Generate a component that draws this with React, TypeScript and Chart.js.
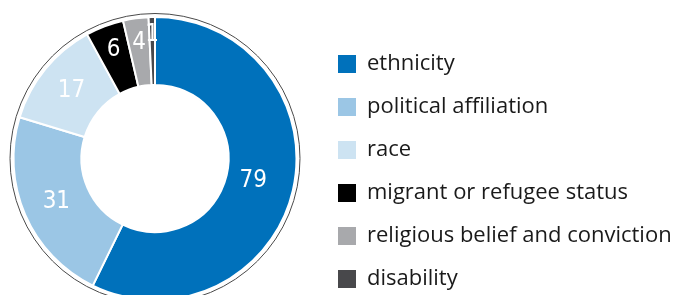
import React, { useEffect, useRef } from 'react';
import { Chart, registerables } from 'chart.js';

Chart.register(...registerables);

const categories = [
  'ethnicity',
  'political affiliation',
  'race',
  'migrant or refugee status',
  'religious belief and conviction',
  'disability',
];
const values = [79, 31, 17, 6, 4, 1];
const colors = ['#0071BB', '#9BC6E5', '#CDE3F2', '#000000', '#A8A9AC', '#48484B'];
// radial position of each value label inside its ring segment (0 = inner edge, 1 = outer edge)
const labelRadialPos = [0.4, 0.5, 0.5, 0.63, 0.64, 0.74];

// let the legend text run past the legend box (Chart.js clips the legend to its box)
const legendClipPlugin = {
  id: 'legendClip',
  beforeDraw(chart: any) {
    const lg = chart.legend;
    if (lg) {
      lg.right = chart.width;
      lg.width = lg.right - lg.left;
    }
  },
};

const outerRingPlugin = {
  id: 'outerRing',
  afterDatasetsDraw(chart: any) {
    const meta = chart.getDatasetMeta(0);
    const arc = meta.data[0];
    if (!arc) return;
    const { x, y, outerRadius } = arc.getProps(['x', 'y', 'outerRadius'], true);
    const ctx = chart.ctx;
    ctx.save();
    ctx.beginPath();
    ctx.arc(x, y, outerRadius + 3.5, 0, Math.PI * 2);
    ctx.strokeStyle = '#4a4a4a';
    ctx.lineWidth = 1;
    ctx.stroke();
    ctx.restore();
  },
};

const valueLabelPlugin = {
  id: 'valueLabels',
  afterDatasetsDraw(chart: any) {
    const meta = chart.getDatasetMeta(0);
    const data = chart.data.datasets[0].data;
    const ctx = chart.ctx;
    ctx.save();
    ctx.fillStyle = '#ffffff';
    ctx.font = "24px 'Liberation Sans Narrow', 'DejaVu Sans Condensed', 'Open Sans', sans-serif";
    ctx.textAlign = 'center';
    ctx.textBaseline = 'middle';
    meta.data.forEach((el: any, i: number) => {
      const { x, y, startAngle, endAngle, innerRadius, outerRadius } = el.getProps(
        ['x', 'y', 'startAngle', 'endAngle', 'innerRadius', 'outerRadius'],
        true
      );
      const a = (startAngle + endAngle) / 2;
      const r = innerRadius + (outerRadius - innerRadius) * labelRadialPos[i];
      ctx.fillText(String(data[i]), x + Math.cos(a) * r, y + Math.sin(a) * r);
    });
    ctx.restore();
  },
};

export default function App() {
  const canvasRef = useRef<HTMLCanvasElement | null>(null);

  useEffect(() => {
    if (!canvasRef.current) return;
    const baseGen = (Chart as any).overrides.doughnut.plugins.legend.labels.generateLabels;
    const chart = new Chart(canvasRef.current, {
      type: 'doughnut',
      data: {
        labels: categories,
        datasets: [
          {
            data: values,
            backgroundColor: colors,
            borderColor: '#ffffff',
            borderWidth: 2,
          },
        ],
      },
      options: {
        responsive: false,
        animation: false,
        radius: 141.5,
        cutout: '52%',
        layout: { padding: { top: 6, right: 35, bottom: 0, left: 0 } },
        plugins: {
          legend: {
            position: 'right',
            align: 'end',
            labels: {
              boxWidth: 18,
              boxHeight: 18,
              padding: 21,
              color: '#1a1a1a',
              font: { family: "'Open Sans', sans-serif", size: 22 },
              generateLabels: (c: any) =>
                baseGen(c).map((l: any) => ({ ...l, lineWidth: 0 })),
            },
          },
          tooltip: { enabled: false },
        },
      } as any,
      plugins: [legendClipPlugin, outerRingPlugin, valueLabelPlugin],
    });
    return () => chart.destroy();
  }, []);

  return (
    <div
      style={{
        position: 'absolute',
        left: 0,
        top: 0,
        width: 676,
        height: 295,
        overflow: 'hidden',
        background: '#ffffff',
      }}
    >
      <div style={{ position: 'absolute', left: -7, top: 0, width: 683, height: 311 }}>
        <canvas ref={canvasRef} width={683} height={311} style={{ display: 'block' }} />
      </div>
    </div>
  );
}
